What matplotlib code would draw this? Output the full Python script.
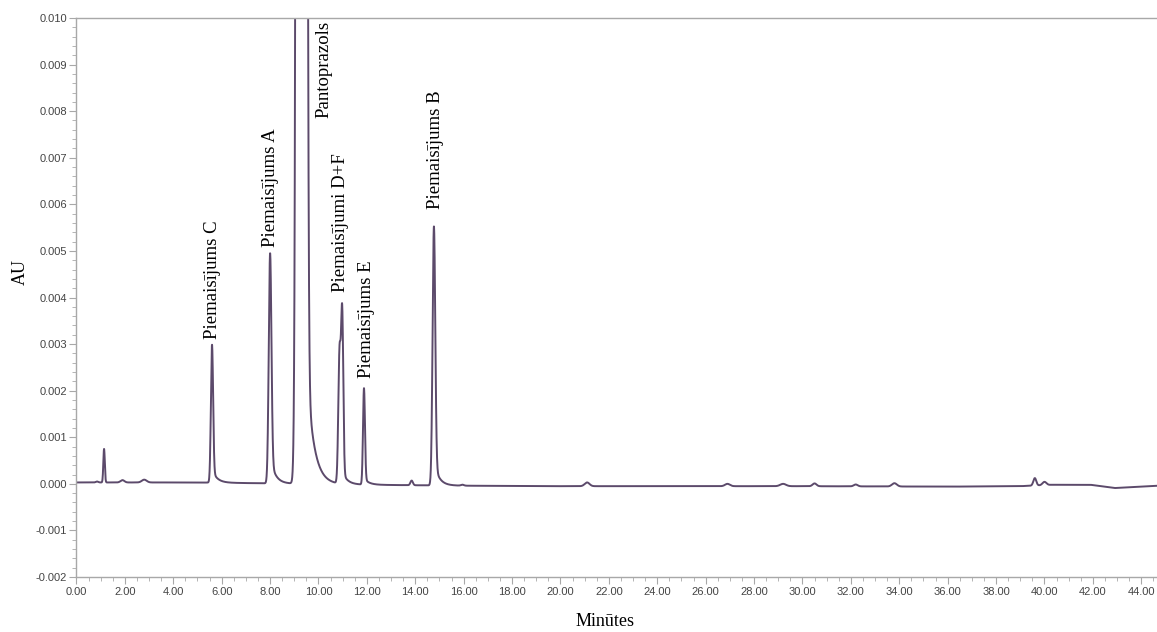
import numpy as np
import matplotlib
matplotlib.use("Agg")
import matplotlib.pyplot as plt
from matplotlib.ticker import MultipleLocator, FormatStrFormatter

# peak table: retention time (min), height (AU), width (sigma, min), tailing fraction, tail time (min)
peak_rt = [0.85, 1.14, 1.9, 2.8, 5.60, 8.00, 9.30, 10.87, 10.98, 11.88, 13.85, 14.77,
           15.95, 21.1, 26.9, 29.2, 30.5, 32.2, 33.8, 39.6, 40.0]
peak_h = [0.00002, 0.00072, 0.00005, 0.00006, 0.00296, 0.00494, 0.5, 0.0028, 0.0036,
          0.00207, 0.00010, 0.00556, 0.00002, 0.00008, 0.00005, 0.00005, 0.00006,
          0.00004, 0.00007, 0.00016, 0.00007]
peak_w = [0.05, 0.03, 0.08, 0.1, 0.045, 0.055, 0.095, 0.05, 0.045, 0.04, 0.05, 0.055,
          0.06, 0.1, 0.1, 0.12, 0.08, 0.08, 0.1, 0.06, 0.08]
peak_tail = [0, 0, 0, 0, 0.15, 0.15, 0.012, 0, 0.12, 0.12, 0, 0.12,
             0, 0, 0, 0, 0, 0, 0, 0, 0]
peak_tau = [0.2, 0.2, 0.2, 0.2, 0.2, 0.2, 0.28, 0.2, 0.2, 0.2, 0.2, 0.2,
            0.2, 0.2, 0.2, 0.2, 0.2, 0.2, 0.2, 0.2, 0.2]

# baseline drift
base_t = [0.0, 5.0, 8.0, 12.0, 16.0, 20.0, 30.0, 36.0, 39.0, 40.3, 41.9, 42.9, 44.7]
base_v = [0.00003, 0.00003, 0.00001, -0.00002, -0.00004, -0.00005, -0.00005,
          -0.00006, -0.00005, -0.00002, -0.00002, -0.00009, -0.00004]

# peak names and where their labels sit (min, AU)
names = ["Piemaisījums C", "Piemaisījums A", "Pantoprazols", "Piemaisījumi D+F",
         "Piemaisījums E", "Piemaisījums B"]
label_x = [5.62, 8.03, 10.22, 10.90, 11.97, 14.82]
label_y = [0.00312, 0.00508, 0.00785, 0.00412, 0.00228, 0.00590]


def peak(t, rt, h, w, tail, tau):
    g = np.exp(-0.5 * ((t - rt) / w) ** 2)
    if tail > 0:
        dt = t[1] - t[0]
        k = np.exp(-np.arange(0, 10 * tau, dt) / tau)
        k /= k.sum()
        g = (1 - tail) * g + tail * np.convolve(g, k)[:len(t)]
        g /= g.max()
    return h * g


t = np.arange(0, 44.7, 0.005)
signal = np.interp(t, base_t, base_v)
for rt, h, w, tl, tau in zip(peak_rt, peak_h, peak_w, peak_tail, peak_tau):
    signal += peak(t, rt, h, w, tl, tau)

fig = plt.figure(figsize=(11.57, 6.32), dpi=100)
ax = fig.add_axes([0.0661, 0.087, 0.9339, 0.8845])
ax.plot(t, signal, color="#5c4a6b", lw=1.4)

ax.set_xlim(0, 44.65)
ax.set_ylim(-0.002, 0.010)
ax.xaxis.set_major_locator(MultipleLocator(2))
ax.xaxis.set_minor_locator(MultipleLocator(0.5))
ax.yaxis.set_major_locator(MultipleLocator(0.001))
ax.yaxis.set_minor_locator(MultipleLocator(0.0002))
ax.xaxis.set_major_formatter(FormatStrFormatter("%.2f"))
ax.yaxis.set_major_formatter(FormatStrFormatter("%.3f"))

for s in ["left", "bottom", "top"]:
    ax.spines[s].set_color("#a8a8a8")
    ax.spines[s].set_linewidth(1.0)
ax.spines["right"].set_visible(False)
ax.tick_params(which="major", length=5, width=0.8, color="#a8a8a8", labelsize=8,
               labelcolor="#444444", pad=2)
ax.tick_params(which="minor", length=3, width=0.6, color="#a8a8a8")
for lab in ax.get_xticklabels() + ax.get_yticklabels():
    lab.set_family("Liberation Sans")

for name, lx, ly in zip(names, label_x, label_y):
    ax.text(lx, ly, name, rotation=90, ha="center", va="bottom",
            family="Liberation Serif", fontsize=13.5, color="black")

fig.text(20 / 1157, 1 - 272 / 632, "AU", rotation=90, ha="center", va="center",
         family="Liberation Serif", fontsize=13)
fig.text(605 / 1157, 1 - 621 / 632, "Minūtes", ha="center", va="center",
         family="Liberation Serif", fontsize=13)

fig.savefig("out.png", dpi=100)
